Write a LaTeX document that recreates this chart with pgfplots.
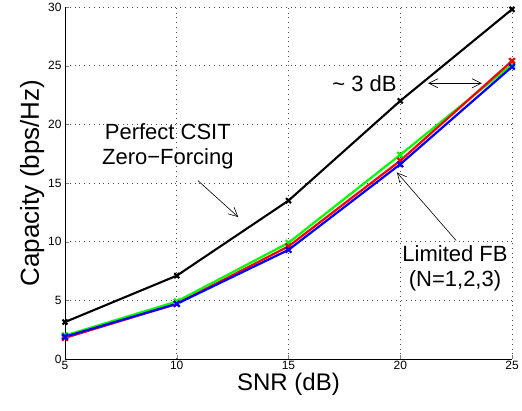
\documentclass[border=0pt]{standalone}
\usepackage{fontspec}
\setmainfont{Liberation Sans}
\usepackage{pgfplots}
\pgfplotsset{compat=1.18}
\usetikzlibrary{arrows.meta}
\begin{document}
\begin{tikzpicture}[
        annarrow/.style = {line width=0.6pt, arrows={-Straight Barb[length=9pt, width=9pt]}},
        annarrows/.style = {line width=0.6pt, arrows={Straight Barb[length=9pt, width=9pt]-Straight Barb[length=9pt, width=9pt]}}]
    \begin{axis}[
        name             = ax,
        scale only axis,
        width            = 447pt,
        height           = 352pt,
        xmin = 5, xmax = 25,
        ymin = 0, ymax = 30,
        xtick            = {5,10,15,20,25},
        ytick            = {0,5,10,15,20,25,30},
        axis x line*     = bottom,
        axis y line*     = left,
        tick align       = inside,
        major tick length = 4pt,
        grid             = major,
        major grid style = {black!70, line width=0.6pt, dash pattern=on 0.8pt off 4pt},
        tick label style = {font=\fontsize{12}{14}\selectfont},
        xticklabel style = {yshift=1pt},
        /pgf/number format/assume math mode=true,
        xlabel           = {SNR (dB)},
        ylabel           = {Capacity (bps/Hz)},
        xlabel style     = {font=\fontsize{24}{28}\selectfont, yshift=4pt},
        ylabel style     = {font=\fontsize{26}{30}\selectfont, yshift=-3pt},
        axis line style  = {black, line width=0.8pt, -},
        every axis plot/.append style = {mark=x}]

        \addplot[black, line width=2.1pt, mark size=3.5pt] coordinates {
            (5,3.15) (10,7.1) (15,13.5) (20,22.0) (25,29.8)};
        \addplot[green, line width=2.2pt, mark size=4pt] coordinates {
            (5,2.0) (10,4.9) (15,9.9) (20,17.4) (25,25.1)};
        \addplot[red, line width=2.2pt, mark size=4pt] coordinates {
            (5,1.8) (10,4.7) (15,9.6) (20,16.9) (25,25.4)};
        \addplot[blue, line width=2.2pt, mark size=4pt] coordinates {
            (5,1.9) (10,4.7) (15,9.3) (20,16.6) (25,24.9)};

        \node[align=center, font=\fontsize{22}{25}\selectfont] at (axis cs:9.6,18.1)
            {Perfect CSIT\\Zero\textminus Forcing};
        \draw[annarrow] (axis cs:10.95,15.2) -- (axis cs:12.75,12.1);
        \node[font=\fontsize{22}{25}\selectfont] at (axis cs:18.4,23.5) {\textasciitilde{} 3 dB};
        \draw[annarrows] (axis cs:21.25,23.5) -- (axis cs:23.65,23.5);
        \node[align=center, font=\fontsize{22}{25}\selectfont] at (axis cs:22.45,7.7)
            {Limited FB\\(N=1,2,3)};
        \draw[annarrow] (axis cs:22.5,10.1) -- (axis cs:19.85,15.9);
    \end{axis}
    \pgfresetboundingbox
    \path[use as bounding box]
        ([xshift=-65pt, yshift=-52pt]ax.south west)
        rectangle ([xshift=10pt, yshift=7pt]ax.north east);
\end{tikzpicture}
\end{document}
